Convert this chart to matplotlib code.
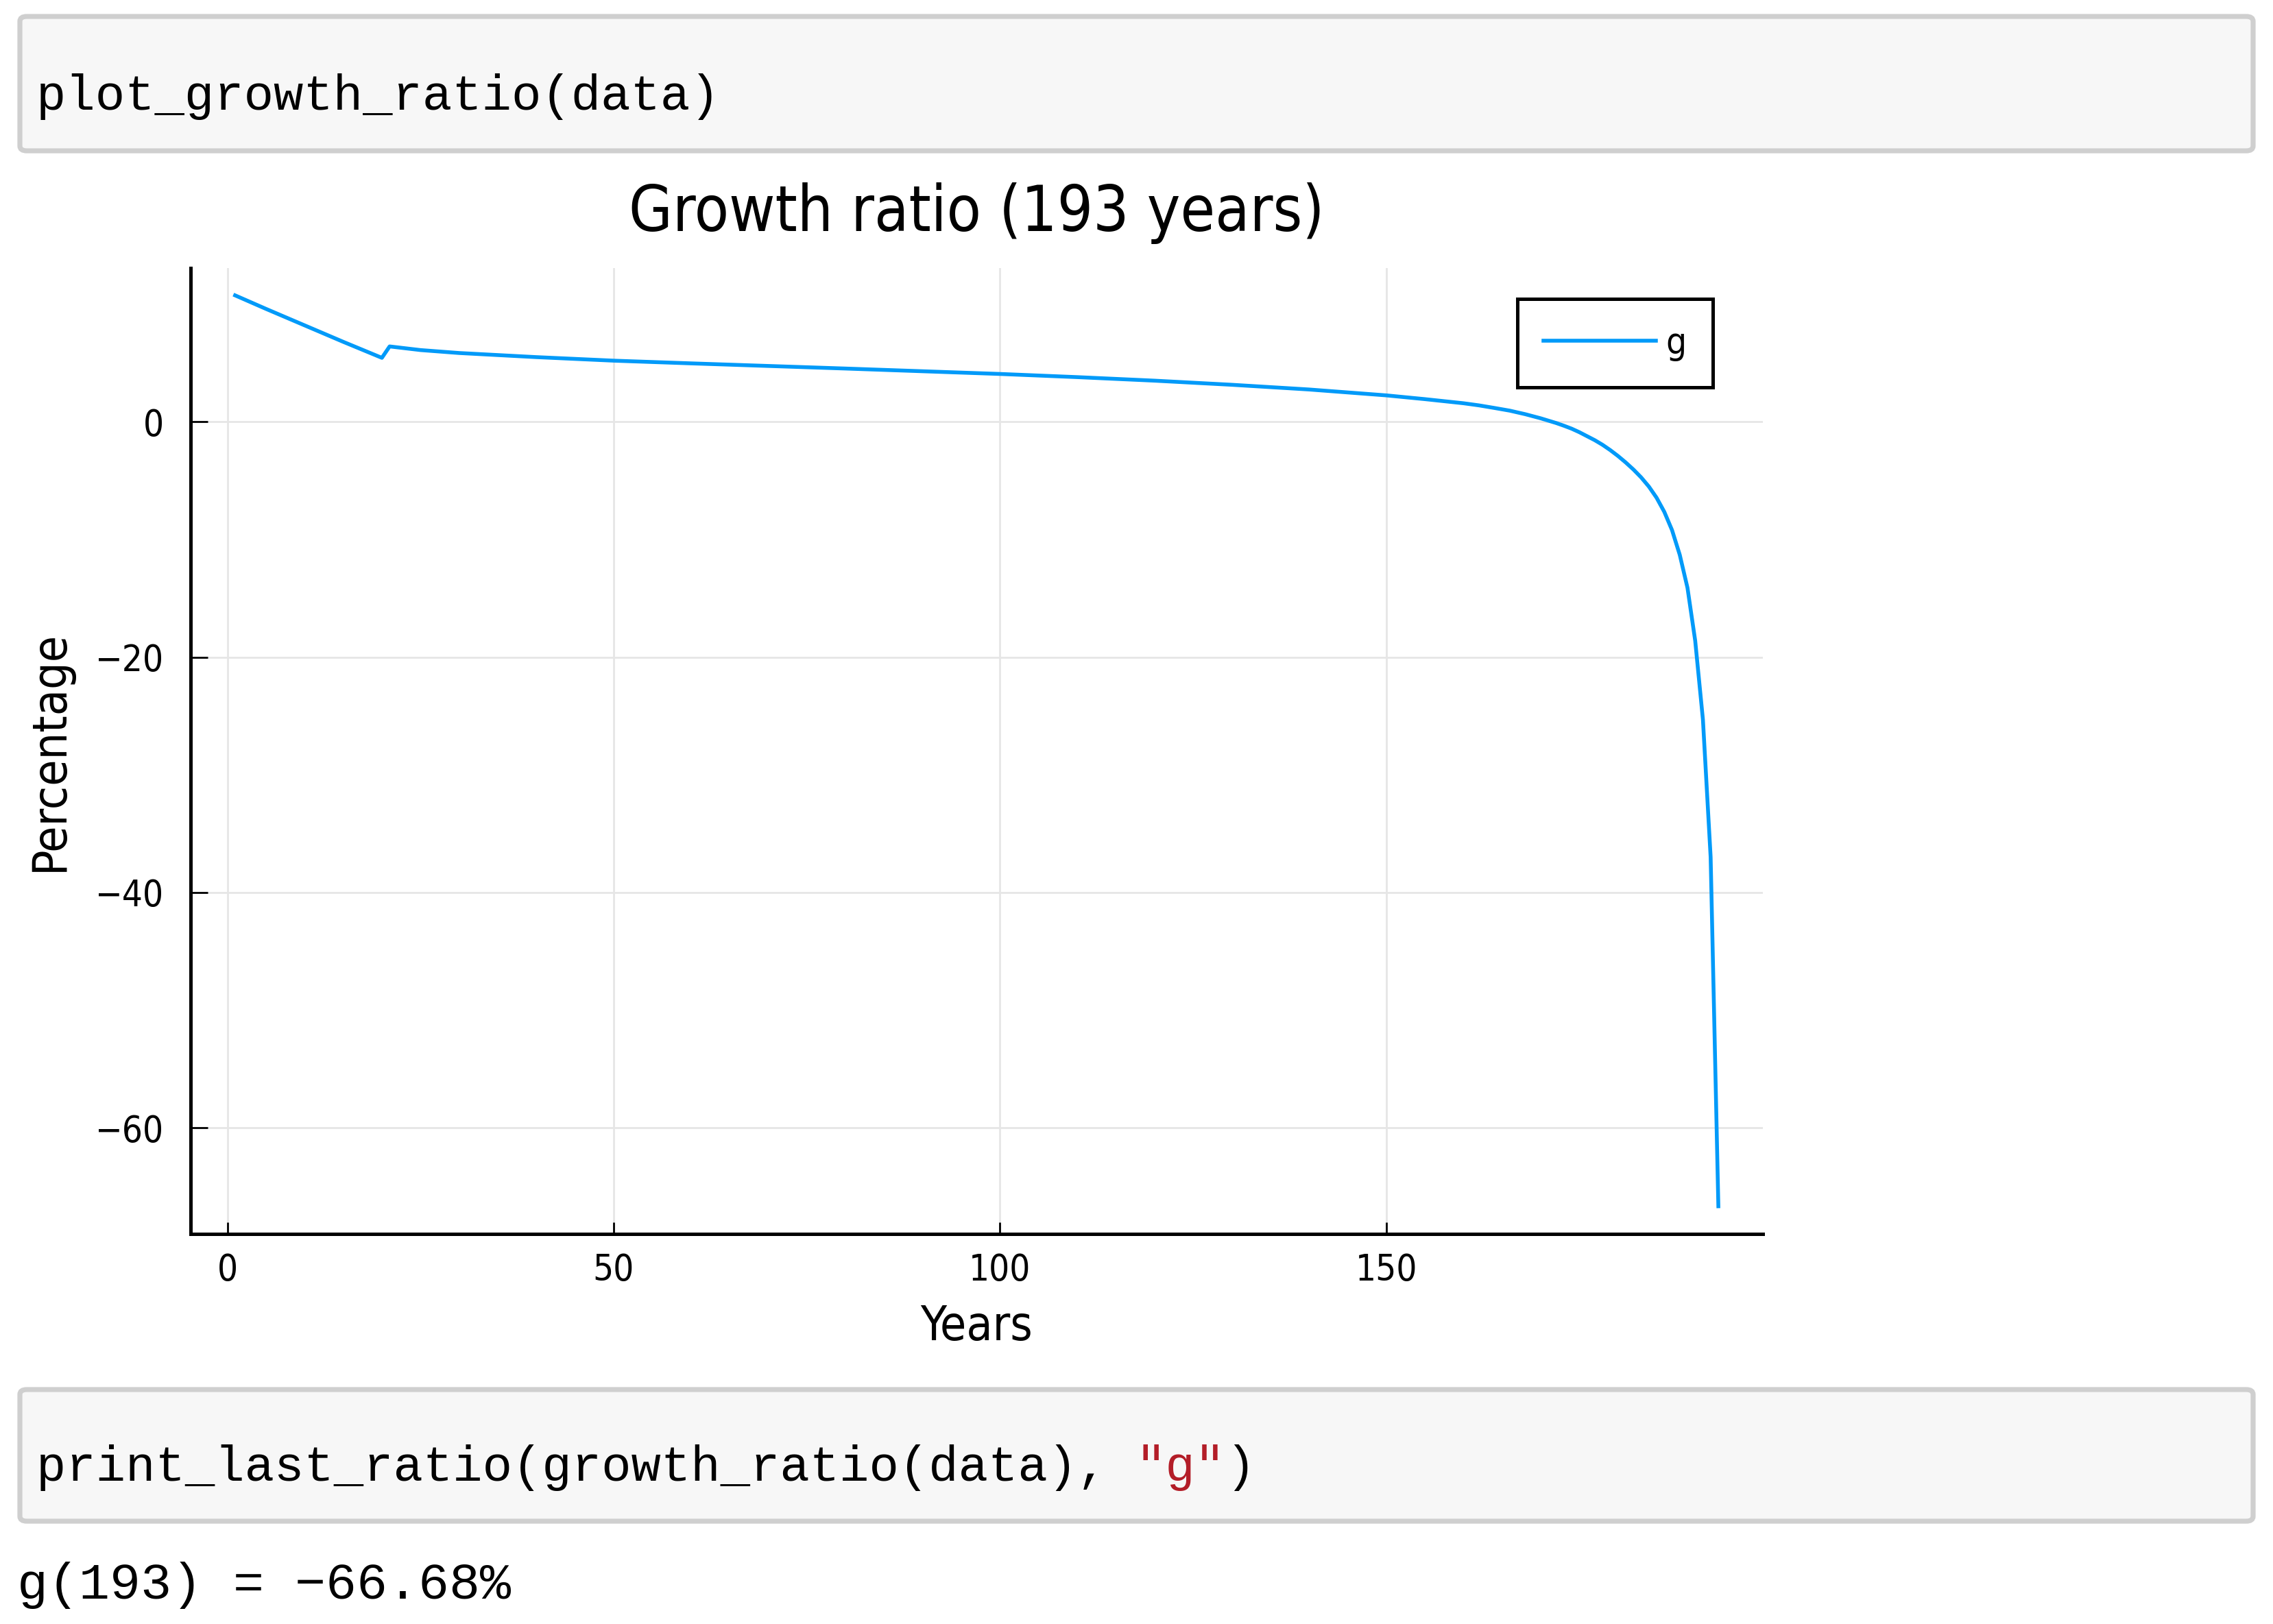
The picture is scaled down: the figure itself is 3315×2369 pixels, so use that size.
import matplotlib.pyplot as plt
from matplotlib import font_manager
from matplotlib.patches import FancyBboxPatch

# values
years = [1, 5, 10, 15, 20, 21, 25, 30, 40, 50, 60, 70, 80, 90, 100, 110, 120, 130, 140, 150,
         155, 160, 162, 164, 166, 168, 170, 171, 172, 173, 174, 175, 176, 177, 178, 179, 180,
         181, 182, 183, 184, 185, 186, 187, 188, 189, 190, 191, 192, 193]
growth = [10.75, 9.6, 8.2, 6.8, 5.44, 6.41, 6.1, 5.85, 5.5, 5.2, 4.97, 4.75, 4.53, 4.3, 4.07,
          3.8, 3.5, 3.15, 2.75, 2.25, 1.93, 1.58, 1.4, 1.18, 0.95, 0.65, 0.3, 0.1, -0.1,
          -0.33, -0.58, -0.88, -1.22, -1.56, -1.95, -2.4, -2.9, -3.45, -4.05, -4.72, -5.5,
          -6.45, -7.65, -9.2, -11.3, -14.1, -18.6, -25.3, -37.0, -66.68]
xticks = [0, 50, 100, 150]
yticks = [0, -20, -40, -60]

code_top = 'plot_growth_ratio(data)'
code_bottom = ['print_last_ratio(growth_ratio(data), ', '"g"', ')']
output_line = 'g(193) = \u221266.68%'

W, H, DPI = 3315, 2369, 200

names = {f.name for f in font_manager.fontManager.ttflist}
if 'DejaVu Sans Condensed' in names:
    plt.rcParams['font.family'] = 'DejaVu Sans Condensed'
else:
    plt.rcParams['font.family'] = 'DejaVu Sans'
    plt.rcParams['font.stretch'] = 'condensed'
MONO = 'Liberation Mono'


def fx(px):
    return px / W


def fy(py):
    return 1 - py / H


fig = plt.figure(figsize=(W / DPI, H / DPI), dpi=DPI)
fig.patch.set_facecolor('white')

# notebook code cells
for top, bottom in [(24, 220), (2027, 2219)]:
    fig.patches.append(FancyBboxPatch(
        (fx(29), fy(bottom)), fx(3286) - fx(29), fy(top) - fy(bottom),
        boxstyle='round,pad=0,rounding_size=0.003', transform=fig.transFigure,
        facecolor='#f7f7f7', edgecolor='#cfcfcf', linewidth=2.6))

adv = 43.34  # monospace advance in px
fig.text(fx(53), fy(160), code_top, family=MONO, fontstretch='normal',
         fontsize=26, va='baseline')
x0 = 53
colors = ['black', '#b31d28', 'black']
for part, c in zip(code_bottom, colors):
    fig.text(fx(x0), fy(2160), part, family=MONO, fontstretch='normal',
             fontsize=26, va='baseline', color=c)
    x0 += len(part) * adv
fig.text(fx(25), fy(2332), output_line, family=MONO, fontstretch='normal',
         fontsize=27, va='baseline')

# plot
ax = fig.add_axes([fx(278), fy(1799.5), fx(2571) - fx(278), fy(391) - fy(1799.5)])
ax.plot(years, growth, color='#009af9', linewidth=2.0, label='g')

xpad = 0.03 * (max(years) - min(years))
ypad = 0.03 * (max(growth) - min(growth))
ax.set_xlim(min(years) - xpad, max(years) + xpad)
ax.set_ylim(min(growth) - ypad, max(growth) + ypad)
ax.set_xticks(xticks)
ax.set_yticks(yticks)

ax.grid(True, color='#e6e6e6', linewidth=1.0)
ax.set_axisbelow(True)
for s in ['top', 'right']:
    ax.spines[s].set_visible(False)
for s in ['left', 'bottom']:
    ax.spines[s].set_linewidth(1.8)

ax.tick_params(direction='in', width=1.0, color='black', labelsize=19)
ax.tick_params(axis='x', length=6, pad=10)
ax.tick_params(axis='y', length=9, pad=14)

ax.set_title('Growth ratio (193 years)', fontsize=33, pad=19.4)
fig.text(fx(1424), fy(1955), 'Years', ha='center', va='baseline', fontsize=25)
fig.text(fx(72), fy(1095), 'Percentage', rotation=90, ha='center', va='center', fontsize=25)

leg = ax.legend(loc='upper right', bbox_to_anchor=(fx(2498), fy(436)),
                bbox_transform=fig.transFigure, borderaxespad=0, fontsize=19,
                handlelength=3.1, handletextpad=0.27, borderpad=0.73,
                fancybox=False, framealpha=1, edgecolor='black')
leg.get_frame().set_linewidth(1.8)

fig.savefig('out.png', dpi=DPI, facecolor='white')
